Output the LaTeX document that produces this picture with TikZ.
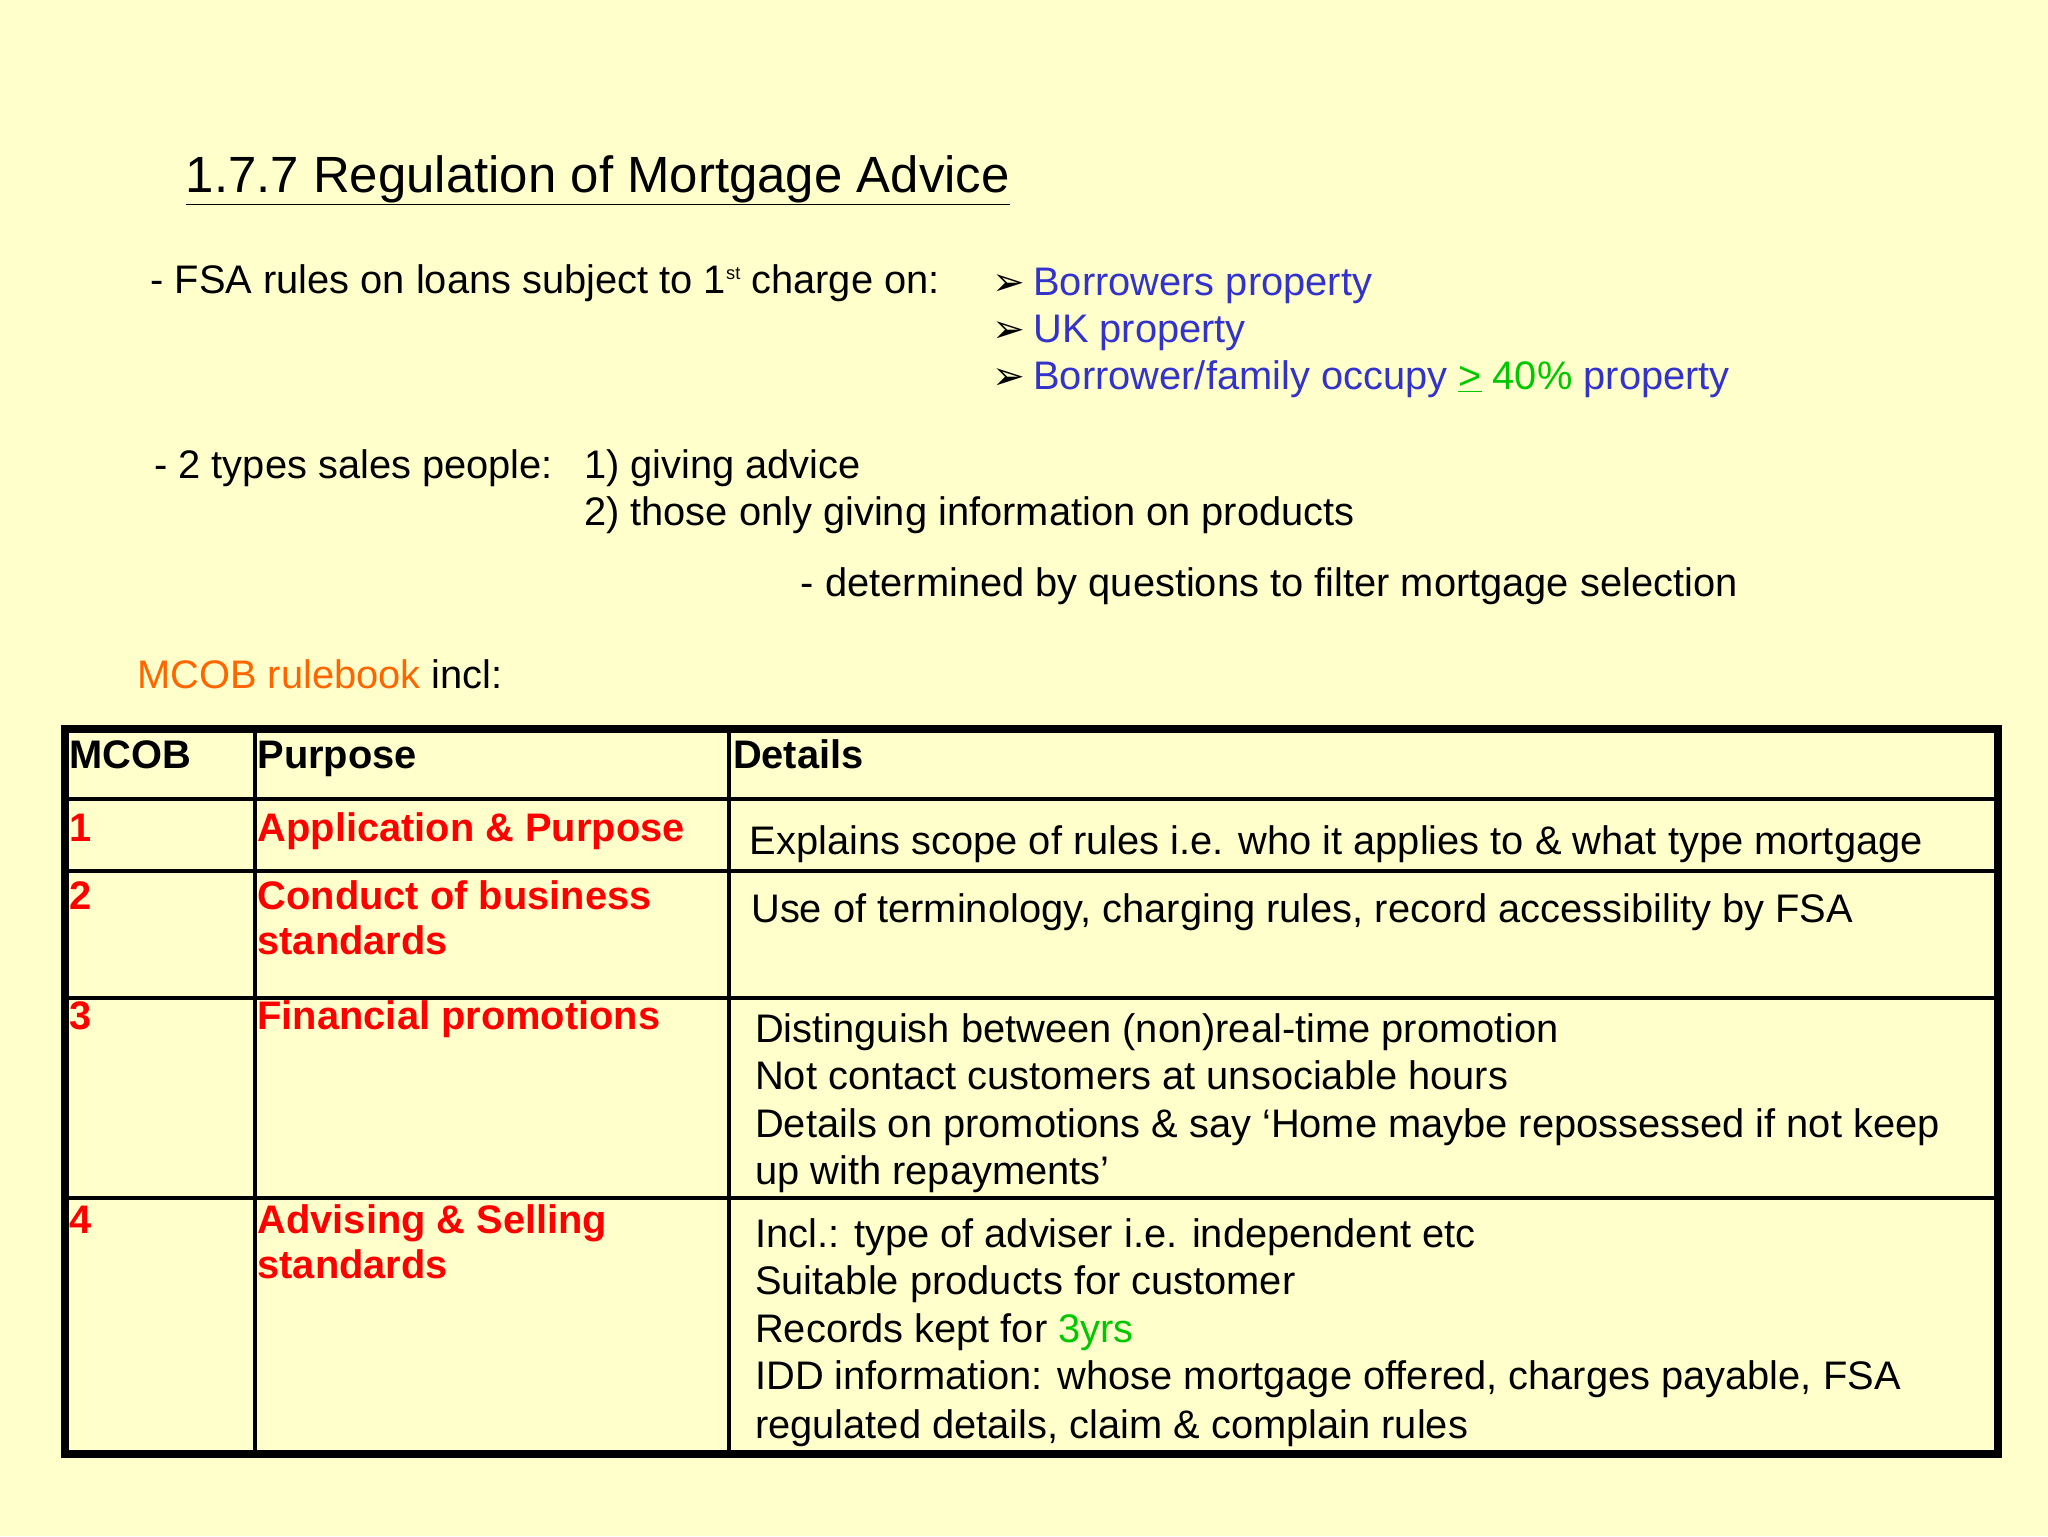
\documentclass[tikz,border=0pt]{standalone}
\usepackage{fontspec}
\setmainfont{Liberation Sans}
\newfontfamily\dv{DejaVu Sans}
\definecolor{bg}{RGB}{255,255,204}
\definecolor{tblue}{RGB}{51,51,204}
\definecolor{tgreen}{RGB}{0,200,0}
\definecolor{tred}{RGB}{255,0,0}
\definecolor{torange}{RGB}{255,102,0}
\begin{document}
\begin{tikzpicture}[x=1pt,y=-1pt,
  txt/.style={anchor=base west,inner sep=0pt,font=\fontsize{30.5}{36}\selectfont},
  rtxt/.style={txt,text=tred,font=\fontsize{30.5}{36}\selectfont\bfseries},
  htxt/.style={txt,font=\fontsize{30.5}{36}\selectfont\bfseries},
  btxt/.style={txt,text=tblue}]
\fill[bg] (0,0) rectangle (1568,1176);
\useasboundingbox (0,0) rectangle (1568,1176);
\node[txt,font=\fontsize{39}{46}\selectfont] (title) at (142,147) {\underline{1.7.7 Regulation of Mortgage Advice}};
\node[txt] (fsa) at (115,225) {- FSA rules on loans subject to 1{\fontsize{14}{14}\selectfont\raisebox{11pt}{st}} charge on:};
\node[txt,font=\fontsize{30}{36}\selectfont\dv] (b1m) at (760,226) {➢};
\node[txt,font=\fontsize{30}{36}\selectfont\dv] (b2m) at (760,262) {➢};
\node[txt,font=\fontsize{30}{36}\selectfont\dv] (b3m) at (760,298) {➢};
\node[btxt] (b1) at (791,226) {Borrowers property};
\node[btxt] (b2) at (791,262) {UK property};
\node[btxt] (b3) at (791,298) {Borrower/family occupy \textcolor{tgreen}{\underline{>} 40\%} property};
\node[txt] (sales) at (118,366) {- 2 types sales people:};
\node[txt] (s1) at (447,366) {1) giving advice};
\node[txt] (s2) at (447,402) {2) those only giving information on products};
\node[txt] (det) at (613,457) {- determined by questions to filter mortgage selection};
\node[txt] (mcob) at (105,527) {\textcolor{torange}{MCOB rulebook} incl:};
% table
\draw[line width=3pt] (195,558) -- (195,1113) (558,558) -- (558,1113)
  (50,612) -- (1530,612) (50,667) -- (1530,667) (50,764) -- (1530,764) (50,917) -- (1530,917);
\draw[line width=6pt] (50,558) rectangle (1530,1113);
\node[htxt] (h1) at (53,588) {MCOB};
\node[htxt] (h2) at (197,588) {Purpose};
\node[htxt] (h3) at (561,588) {Details};
\node[rtxt] (r1n) at (53,644) {1};
\node[rtxt] (r1p) at (197,644) {Application \& Purpose};
\node[txt] (r1d) at (574,654) {Explains scope of rules i.e. who it applies to \& what type mortgage};
\node[rtxt] (r2n) at (53,696) {2};
\node[rtxt] (r2p) at (197,696) {Conduct of business};
\node[rtxt] (r2q) at (197,731) {standards};
\node[txt] (r2d) at (575,706) {Use of terminology, charging rules, record accessibility by FSA};
\node[rtxt] (r3n) at (53,788) {3};
\node[rtxt] (r3p) at (197,788) {Financial promotions};
\node[txt] (r3a) at (578,798) {Distinguish between (non)real-time promotion};
\node[txt] (r3b) at (578,834) {Not contact customers at unsociable hours};
\node[txt] (r3c) at (578,871) {Details on promotions \& say ‘Home maybe repossessed if not keep};
\node[txt] (r3d) at (578,907) {up with repayments’};
\node[rtxt] (r4n) at (53,944) {4};
\node[rtxt] (r4p) at (197,944) {Advising \& Selling};
\node[rtxt] (r4q) at (197,979) {standards};
\node[txt] (r4a) at (578,955) {Incl.: type of adviser i.e. independent etc};
\node[txt] (r4b) at (578,991) {Suitable products for customer};
\node[txt] (r4c) at (578,1028) {Records kept for \textcolor{tgreen}{3yrs}};
\node[txt] (r4d) at (578,1064) {IDD information: whose mortgage offered, charges payable, FSA};
\node[txt] (r4e) at (578,1101) {regulated details, claim \& complain rules};
\end{tikzpicture}
\end{document}
